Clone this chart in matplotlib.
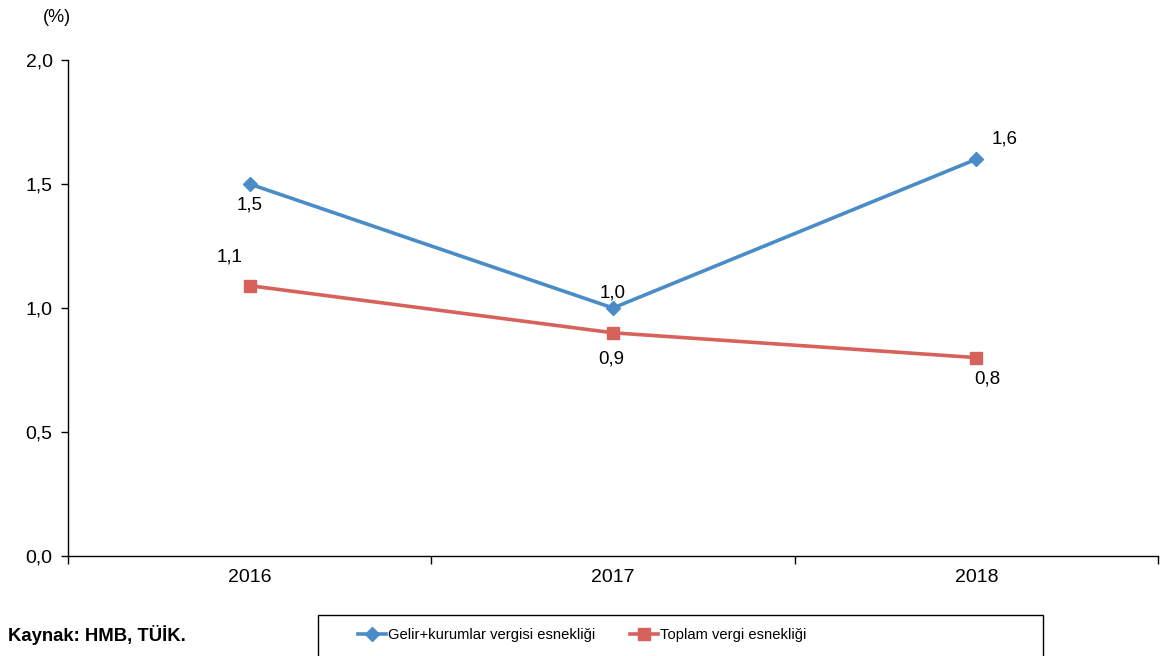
import matplotlib.pyplot as plt
from matplotlib.patches import Rectangle
from matplotlib.ticker import FixedLocator

plt.rcParams['font.family'] = ['Liberation Sans', 'DejaVu Sans']

# data
years = ['2016', '2017', '2018']
gelir_kurumlar = [1.50, 1.00, 1.60]
toplam_vergi = [1.09, 0.90, 0.80]
yticks = [0.0, 0.5, 1.0, 1.5, 2.0]

blue = '#4A8CC6'
red = '#D7625C'

W, H = 1167, 656
fig = plt.figure(figsize=(W / 100, H / 100), dpi=100)
ax = fig.add_axes([68 / W, 1 - 556 / H, (1158 - 68) / W, 496 / H])

x = list(range(len(years)))
ax.plot(x, gelir_kurumlar, color=blue, lw=2.6, marker='D', ms=7.5,
        label='Gelir+kurumlar vergisi esnekliği')
ax.plot(x, toplam_vergi, color=red, lw=2.6, marker='s', ms=8,
        label='Toplam vergi esnekliği')

def fmt(v):
    return f'{v:.1f}'.replace('.', ',')

# label offsets in pixels, converted to points
blue_off = [(0, -21), (0, 15), (28, 20)]
red_off = [(-20, 29), (-2, -26), (11, -21)]
for i in x:
    dx, dy = blue_off[i]
    ax.annotate(fmt(gelir_kurumlar[i]), (i, gelir_kurumlar[i]),
                xytext=(dx * 0.72, dy * 0.72), textcoords='offset points',
                ha='center', va='center', fontsize=13.5)
    dx, dy = red_off[i]
    ax.annotate(fmt(toplam_vergi[i]), (i, toplam_vergi[i]),
                xytext=(dx * 0.72, dy * 0.72), textcoords='offset points',
                ha='center', va='center', fontsize=13.5)

ax.set_ylim(0, 2.0)
ax.set_yticks(yticks)
ax.set_yticklabels([fmt(v) for v in yticks], fontsize=14)
ax.set_xlim(-0.5, len(years) - 0.5)
ax.xaxis.set_major_locator(FixedLocator([i - 0.5 for i in range(len(years) + 1)]))
ax.xaxis.set_major_formatter(plt.NullFormatter())
ax.xaxis.set_minor_locator(FixedLocator(x))
ax.set_xticklabels(years, minor=True, fontsize=14)
ax.tick_params(axis='x', which='major', length=6, direction='out', width=1)
ax.tick_params(axis='x', which='minor', length=0, pad=9)
ax.tick_params(axis='y', length=5, direction='out', width=1, pad=6)

for s in ['top', 'right']:
    ax.spines[s].set_visible(False)
for s in ['left', 'bottom']:
    ax.spines[s].set_linewidth(1)

fig.text(57 / W, 1 - 17 / H, '(%)', ha='center', va='center', fontsize=13)
fig.text(8 / W, 1 - 635 / H, 'Kaynak: HMB, TÜİK.', ha='left', va='center',
         fontsize=13.3, fontweight='bold')

# legend box (runs off the bottom edge)
fig.patches.append(Rectangle((318 / W, -10 / H), (1043 - 318) / W, (656 - 615 + 10) / H,
                             transform=fig.transFigure, fill=False, ec='black', lw=1))
fig.legend(loc='center left', bbox_to_anchor=(345 / W, 1 - 635 / H),
           ncol=2, frameon=False, handlelength=1.9, fontsize=10.6,
           handletextpad=0.1, columnspacing=2.4)

fig.savefig('out.png', dpi=100)
